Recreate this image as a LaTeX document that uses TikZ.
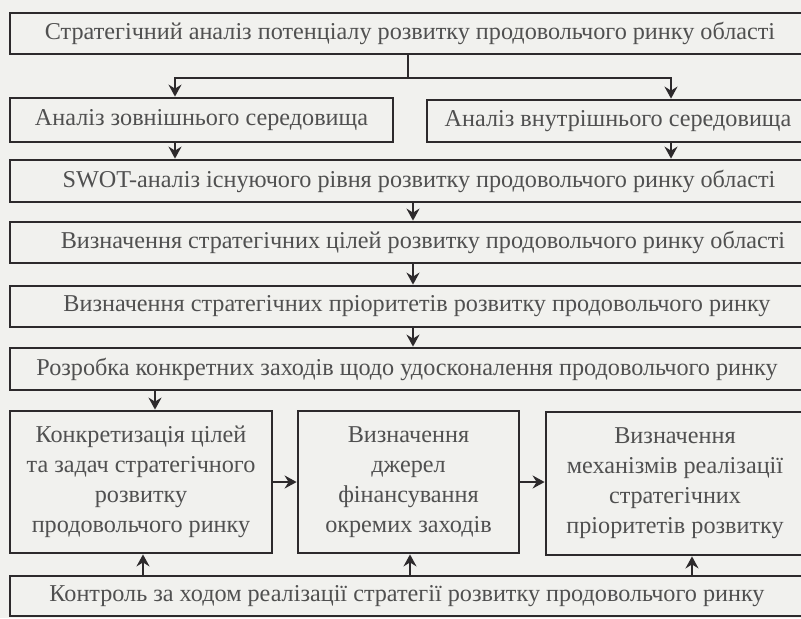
\documentclass[tikz,border=0pt]{standalone}
\usepackage{fontspec}
\setmainfont{Liberation Serif}
\usetikzlibrary{arrows.meta}
\definecolor{bgc}{RGB}{241,241,238}
\definecolor{linec}{RGB}{45,42,44}
\definecolor{textc}{RGB}{80,80,80}
\begin{document}
\begin{tikzpicture}[x=0.5pt,y=-0.5pt,
  box/.style={draw=linec, line width=1.4pt, text=textc, inner sep=0pt,
    align=center, font=\fontsize{12.1}{15}\selectfont},
  conn/.style={draw=linec, line width=1.4pt},
  arr/.style={conn, -{Stealth[length=6pt,width=6.5pt,inset=2pt]}}]
\fill[bgc] (0,0) rectangle (801,618);
\useasboundingbox (0,0) rectangle (801,618);
% full-width boxes
\node[box, minimum width=397pt, minimum height=20.5pt] (b1) at (407,33.5)
  {\hspace{3pt}Стратегічний аналіз потенціалу розвитку продовольчого ринку області};
\node[box, minimum width=191.5pt, minimum height=22pt] (b2) at (201.5,120)
  {Аналіз зовнішнього середовища};
\node[box, minimum width=189pt, minimum height=21pt] (b3) at (616,121)
  {\hspace{2pt}Аналіз внутрішнього середовища};
\node[box, minimum width=397pt, minimum height=21pt] (b4) at (407,181)
  {\hspace{12pt}SWOT-аналіз існуючого рівня розвитку продовольчого ринку області};
\node[box, minimum width=397pt, minimum height=20.5pt] (b5) at (407,242.5)
  {\hspace{16pt}Визначення стратегічних цілей розвитку продовольчого ринку області};
\node[box, minimum width=397pt, minimum height=20.5pt] (b6) at (407,306.5)
  {\hspace{10pt}Визначення стратегічних пріоритетів розвитку продовольчого ринку};
\node[box, minimum width=397pt, minimum height=21pt] (b7) at (407,369)
  {Розробка конкретних заходів щодо удосконалення продовольчого ринку};
% lower row
\node[box, minimum width=131pt, minimum height=71pt] (b8) at (141,482)
  {Конкретизація цілей\\та задач стратегічного\\розвитку\\продовольчого ринку};
\node[box, minimum width=110.5pt, minimum height=71pt] (b9) at (408.5,482)
  {Визначення\\джерел\\фінансування\\окремих заходів};
\node[box, minimum width=129pt, minimum height=71.5pt] (b10) at (675,483.5)
  {Визначення\\механізмів реалізації\\стратегічних\\пріоритетів розвитку};
\node[box, minimum width=397pt, minimum height=20pt] (b11) at (407,596)
  {Контроль за ходом реалізації стратегії розвитку продовольчого ринку};
% connectors
\coordinate (split) at (408,78);
\coordinate (sL) at (175,78);
\coordinate (sR) at (671,78);
\draw[conn] (split |- b1.south) -- (split);
\draw[arr] (split) -- (sL) -- (sL |- b2.north);
\draw[arr] (split) -- (sR) -- (sR |- b3.north);
\draw[arr] (sL |- b2.south) -- (sL |- b4.north);
\draw[arr] (sR |- b3.south) -- (sR |- b4.north);
\coordinate (mid) at (413,0);
\draw[arr] (mid |- b4.south) -- (mid |- b5.north);
\draw[arr] (mid |- b5.south) -- (mid |- b6.north);
\draw[arr] (mid |- b6.south) -- (mid |- b7.north);
\coordinate (d8) at (155,0);
\draw[arr] (d8 |- b7.south) -- (d8 |- b8.north);
\coordinate (h) at (0,482);
\draw[arr] (b8.east |- h) -- (b9.west |- h);
\draw[arr] (b9.east |- h) -- (b10.west |- h);
\coordinate (u8) at (143,0);
\coordinate (u9) at (410,0);
\coordinate (u10) at (692,0);
\draw[arr] (u8 |- b11.north) -- (u8 |- b8.south);
\draw[arr] (u9 |- b11.north) -- (u9 |- b9.south);
\draw[arr] (u10 |- b11.north) -- (u10 |- b10.south);
\end{tikzpicture}
\end{document}
